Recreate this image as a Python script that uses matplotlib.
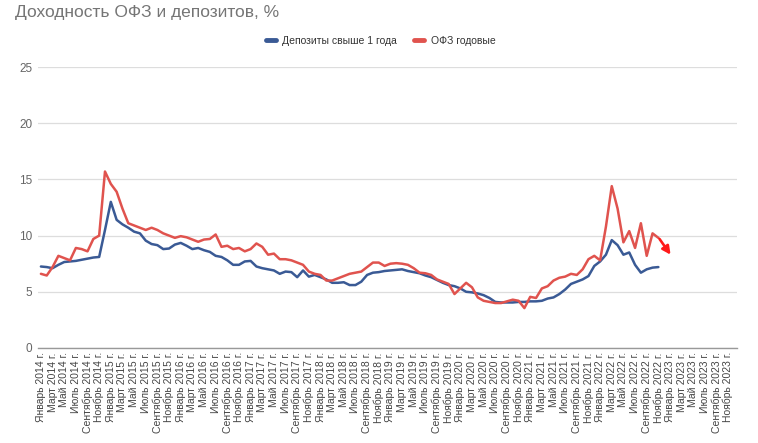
import numpy as np
import matplotlib.pyplot as plt

plt.rcParams['font.family'] = ['Liberation Sans', 'DejaVu Sans']

# monthly series, Jan 2014 .. Nov 2022
deposits = [7.25, 7.2, 7.1, 7.4, 7.65, 7.7, 7.75, 7.85, 7.95, 8.05, 8.1, 10.5,
            13.0, 11.4, 11.0, 10.7, 10.35, 10.2, 9.55, 9.25, 9.15, 8.8, 8.85, 9.2,
            9.35, 9.1, 8.8, 8.9, 8.7, 8.55, 8.2, 8.1, 7.8, 7.4, 7.4, 7.7,
            7.75, 7.25, 7.1, 7.0, 6.9, 6.6, 6.8, 6.75, 6.3, 6.9, 6.35, 6.5,
            6.3, 6.1, 5.8, 5.8, 5.85, 5.6, 5.6, 5.9, 6.5, 6.7, 6.75, 6.85,
            6.9, 6.95, 7.0, 6.85, 6.75, 6.65, 6.45, 6.3, 6.05, 5.8, 5.6, 5.5,
            5.3, 5.0, 4.95, 4.85, 4.7, 4.45, 4.1, 4.05, 4.05, 4.05, 4.1, 4.1,
            4.15, 4.15, 4.2, 4.4, 4.5, 4.8, 5.2, 5.7, 5.9, 6.1, 6.4, 7.3,
            7.7, 8.3, 9.6, 9.15, 8.3, 8.5, 7.4, 6.7, 7.0, 7.15, 7.2]

ofz = [6.6, 6.45, 7.2, 8.2, 8.0, 7.8, 8.9, 8.8, 8.6, 9.7, 10.0, 15.7,
       14.6, 13.9, 12.4, 11.1, 10.9, 10.7, 10.5, 10.7, 10.5, 10.2, 10.0, 9.8,
       9.95, 9.85, 9.65, 9.45, 9.65, 9.7, 10.1, 9.0, 9.1, 8.8, 8.9, 8.6,
       8.8, 9.3, 9.0, 8.3, 8.4, 7.9, 7.9, 7.8, 7.6, 7.4, 6.8, 6.6,
       6.5, 6.0, 6.0, 6.2, 6.4, 6.6, 6.7, 6.8, 7.2, 7.6, 7.6, 7.3,
       7.5, 7.55, 7.5, 7.4, 7.1, 6.7, 6.65, 6.5, 6.1, 5.9, 5.7, 4.8,
       5.3, 5.8, 5.4, 4.5, 4.2, 4.1, 4.0, 4.0, 4.15, 4.3, 4.2, 3.55,
       4.55, 4.45, 5.3, 5.5, 6.0, 6.25, 6.35, 6.6, 6.5, 7.0, 7.9, 8.2,
       7.8, 10.8, 14.4, 12.4, 9.4, 10.4, 8.9, 11.1, 8.2, 10.2, 9.8]

month_names = ['Январь', 'Февраль', 'Март', 'Апрель', 'Май', 'Июнь', 'Июль',
               'Август', 'Сентябрь', 'Октябрь', 'Ноябрь', 'Декабрь']
years = list(range(2014, 2024))
categories = [f'{m} {y} г.' for y in years for m in month_names]

blue = '#3a5a95'
red = '#e0534e'

fig = plt.figure(figsize=(7.58, 4.43), dpi=100)
ax = fig.add_axes([38 / 758, 95 / 443, 699 / 758, 281 / 443])

x_dep = np.arange(len(deposits))
x_ofz = np.arange(len(ofz))
ax.plot(x_dep, deposits, color=blue, lw=1.8, label='Депозиты свыше 1 года',
        solid_capstyle='round', solid_joinstyle='round', zorder=3)
ax.plot(x_ofz, ofz, color=red, lw=1.8, label='ОФЗ годовые',
        solid_capstyle='round', solid_joinstyle='round', zorder=3)

# forecast arrow after the last OFZ point
last = len(ofz) - 1
ax.annotate('', xy=(last + 2.1, ofz[-1] - 1.5), xytext=(last + 0.2, ofz[-1] - 0.1),
            arrowprops=dict(arrowstyle='-|>', color='#ff1a1a', lw=1.9,
                            mutation_scale=12, shrinkA=0, shrinkB=0))

ax.set_xlim(-0.5, len(categories) - 0.5)
ax.set_ylim(0, 25)
ax.set_yticks([0, 5, 10, 15, 20, 25])
ax.set_xticks(range(0, len(categories), 2))
ax.set_xticklabels(categories[::2], rotation=90, fontsize=7.5, color='#444444')
ax.tick_params(axis='both', length=0)
ax.tick_params(axis='y', labelsize=8.5, labelcolor='#666666', pad=4)
ax.tick_params(axis='x', pad=3)

ax.grid(axis='y', color='#dddddd', lw=0.9)
ax.set_axisbelow(True)
for s in ['top', 'right', 'left']:
    ax.spines[s].set_visible(False)
ax.spines['bottom'].set_color('#999999')
ax.spines['bottom'].set_linewidth(1.0)

fig.text(15 / 758, 1 - 13 / 443, 'Доходность ОФЗ и депозитов, %', fontsize=12.5,
         color='#757575', va='center', ha='left')

leg = fig.legend(loc='center', bbox_to_anchor=(0.502, 1 - 41 / 443), ncol=2,
                 frameon=False, fontsize=7.5, handlelength=1.0, handletextpad=0.6,
                 columnspacing=1.6)
for h in leg.legend_handles:
    h.set_linewidth(3.5)
for t in leg.get_texts():
    t.set_color('#333333')

fig.savefig('out.png', dpi=100)
